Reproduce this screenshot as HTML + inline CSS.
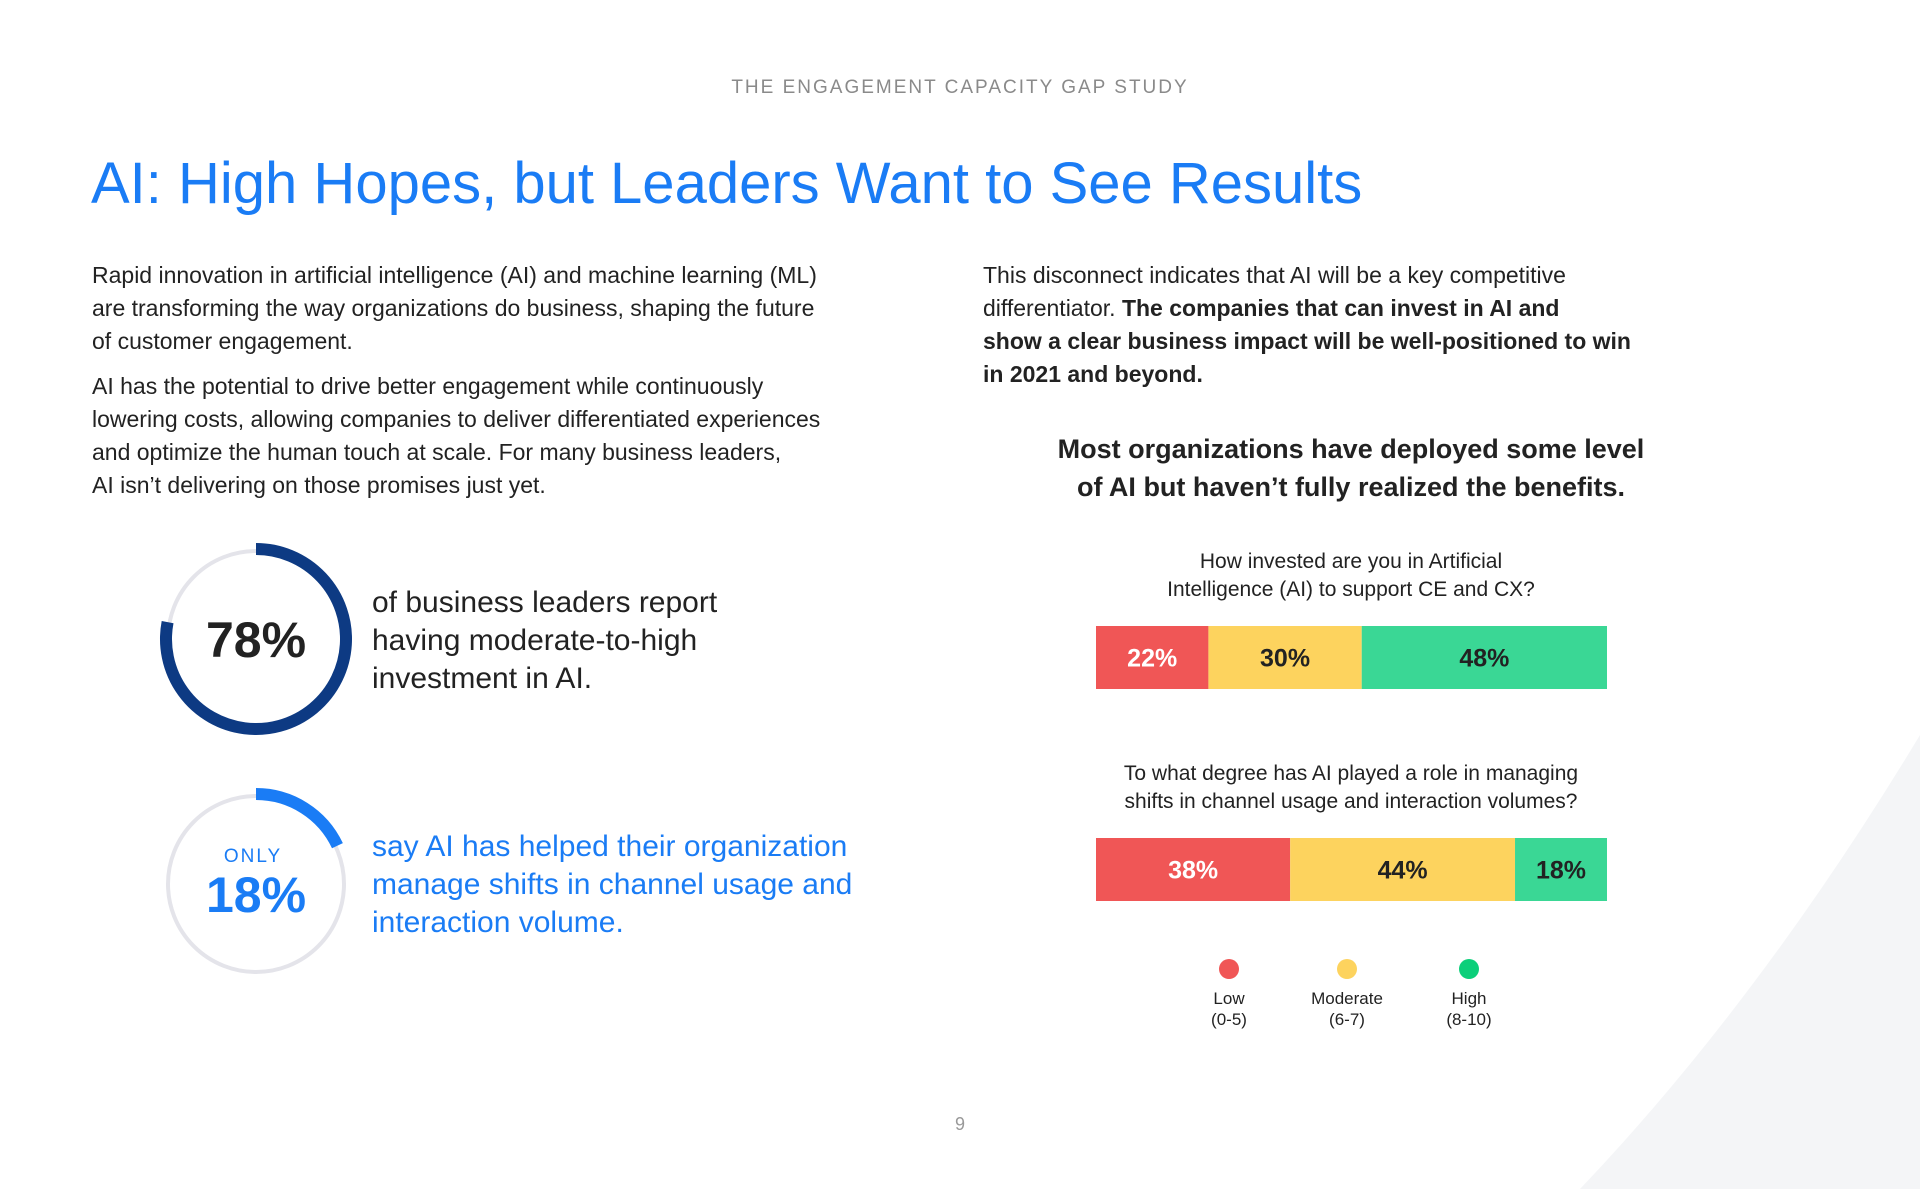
<!DOCTYPE html>
<html><head><meta charset="utf-8">
<style>
body{margin:0;width:1920px;height:1189px;position:relative;overflow:hidden;background:#fff;font-family:"Liberation Sans",sans-serif;color:#222}
.abs{position:absolute}
p{margin:0}
</style></head><body>
<svg class="abs" style="left:0;top:0" width="1920" height="1189">
<path d="M1920 735 Q1760 1000 1580 1189 L1920 1189 Z" fill="#f4f5f7"/>
</svg>
<div class="abs" style="left:0;width:1920px;top:77px;text-align:center;font-size:19px;letter-spacing:2px;color:#8a8a8a">THE ENGAGEMENT CAPACITY GAP STUDY</div>
<div class="abs" style="left:91px;top:150px;font-size:58px;color:#1a7cf5;white-space:nowrap">AI: High Hopes, but Leaders Want to See Results</div>
<div class="abs" style="left:92px;top:259px;width:900px;font-size:23px;line-height:33px;color:#222;white-space:nowrap">
<p>Rapid innovation in artificial intelligence (AI) and machine learning (ML)<br>are transforming the way organizations do business, shaping the future<br>of customer engagement.</p>
<p style="margin-top:12px">AI has the potential to drive better engagement while continuously<br>lowering costs, allowing companies to deliver differentiated experiences<br>and optimize the human touch at scale. For many business leaders,<br>AI isn’t delivering on those promises just yet.</p></div>
<div class="abs" style="left:983px;top:259px;width:760px;font-size:23px;line-height:33px;white-space:nowrap">This disconnect indicates that AI will be a key competitive<br>differentiator. <b>The companies that can invest in AI and<br>show a clear business impact will be well-positioned to win<br>in 2021 and beyond.</b></div>
<div class="abs" style="left:1000px;width:702px;top:430px;text-align:center;font-size:27px;line-height:38px;font-weight:bold">Most organizations have deployed some level<br>of AI but haven’t fully realized the benefits.</div>
<div class="abs" style="left:1000px;width:702px;top:548px;text-align:center;font-size:21px;line-height:28px">How invested are you in Artificial<br>Intelligence (AI) to support CE and CX?</div>
<div class="abs" style="left:1000px;width:702px;top:760px;text-align:center;font-size:21px;line-height:28px">To what degree has AI played a role in managing<br>shifts in channel usage and interaction volumes?</div>
<svg class="abs" style="left:0;top:0" width="1920" height="1189" id="charts"></svg>
<div class="abs" style="left:372px;top:584px;font-size:30px;line-height:38px;color:#222">of business leaders report<br>having moderate-to-high<br>investment in AI.</div>
<div class="abs" style="left:372px;top:828px;font-size:30px;line-height:38px;color:#1a7cf5">say AI has helped their organization<br>manage shifts in channel usage and<br>interaction volume.</div>
<div class="abs" style="left:0;width:1920px;top:1114px;text-align:center;font-size:18px;color:#999">9</div>
<script>
const barLabels1=["22%","30%","48%"];
const barValues1=[22,30,48];
const barValues2=[38,44,18];
const barLabels2=["38%","44%","18%"];
const segColors=["#f05656","#fdd35e","#3ad795"];
const segText=["#fff","#222","#222"];
const legendNames=["Low","Moderate","High"];
const legendRanges=["(0-5)","(6-7)","(8-10)"];
const legendColors=["#f05656","#fdd35e","#0ccf7a"];
const donutValues=[78,18];
const NS="http://www.w3.org/2000/svg";
const svg=document.getElementById('charts');
function mk(t,a){const e=document.createElementNS(NS,t);for(const k in a)e.setAttribute(k,a[k]);svg.appendChild(e);return e;}
const X0=1096,X1=1607;
function xs(v){return X0+(X1-X0)*v/100;}
function drawBar(vals,labels,y,h,name){
  let acc=0;
  vals.forEach((v,i)=>{
    const r=mk('rect',{x:xs(acc),y:y,width:xs(acc+v)-xs(acc),height:h,fill:segColors[i]});
    
    
    const t=mk('text',{x:(xs(acc)+xs(acc+v))/2,y:y+h/2+9,'text-anchor':'middle','font-size':25,'font-weight':'bold',fill:segText[i],'font-family':'Liberation Sans, sans-serif'});
    t.textContent=labels[i];
    
    
    acc+=v;
  });
}
drawBar(barValues1,barLabels1,626,63,'bar-investment');
drawBar(barValues2,barLabels2,838,63,'bar-shifts');
const lx=[1229,1347,1469];
legendNames.forEach((n,i)=>{
  const c=mk('circle',{cx:lx[i],cy:969,r:10,fill:legendColors[i]});
  
  
  const t=mk('text',{x:lx[i],y:1004,'text-anchor':'middle','font-size':17,fill:'#222','font-family':'Liberation Sans, sans-serif'});
  t.textContent=n;
  
  
  const t2=mk('text',{x:lx[i],y:1025,'text-anchor':'middle','font-size':17,fill:'#222','font-family':'Liberation Sans, sans-serif'});
  t2.textContent=legendRanges[i];
  
  
});
function arc(cx,cy,r,pct){
  const a=pct/100*2*Math.PI;
  const x=cx+r*Math.sin(a),y=cy-r*Math.cos(a);
  return `M${cx} ${cy-r} A${r} ${r} 0 ${pct>50?1:0} 1 ${x} ${y}`;
}
const donuts=[{cx:256,cy:639,color:'#0d3a83',stroke:12},{cx:256,cy:884,color:'#1a7cf5',stroke:12}];
donutValues.forEach((v,i)=>{
  const d=donuts[i];
  const tr=mk('circle',{cx:d.cx,cy:d.cy,r:88,fill:'none',stroke:'#e4e4ea','stroke-width':4});
  
  
  const p=mk('path',{d:arc(d.cx,d.cy,90,v),fill:'none',stroke:d.color,'stroke-width':d.stroke});
  
  
});
const t1=mk('text',{x:256,y:657,'text-anchor':'middle','font-size':50,'font-weight':'bold',fill:'#222','font-family':'Liberation Sans, sans-serif'});
t1.textContent=donutValues[0]+'%';


const t0=mk('text',{x:253,y:862,'text-anchor':'middle','font-size':19,'letter-spacing':2,fill:'#1a7cf5','font-family':'Liberation Sans, sans-serif'});
t0.textContent='ONLY';


const t2=mk('text',{x:256,y:912,'text-anchor':'middle','font-size':50,'font-weight':'bold',fill:'#1a7cf5','font-family':'Liberation Sans, sans-serif'});
t2.textContent=donutValues[1]+'%';


</script>
</body></html>
